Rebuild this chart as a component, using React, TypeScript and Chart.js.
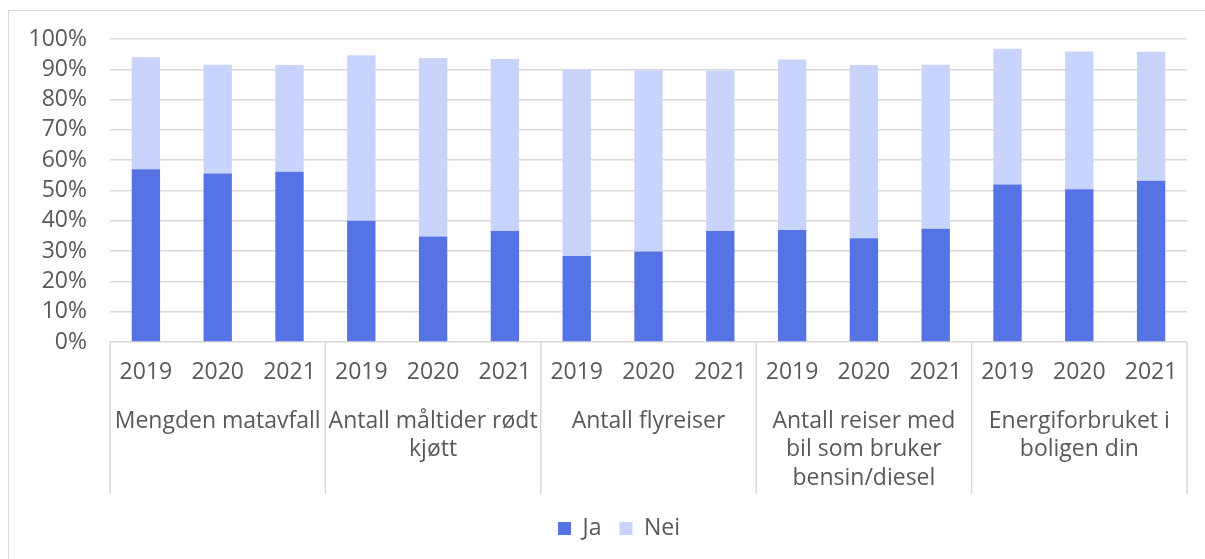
import React, { useEffect, useRef } from "react";
import { Chart, registerables } from "chart.js";

Chart.register(...registerables);

const years = ["2019", "2020", "2021"];
const groups: string[][] = [
  ["Mengden matavfall"],
  ["Antall måltider rødt", "kjøtt"],
  ["Antall flyreiser"],
  ["Antall reiser med", "bil som bruker", "bensin/diesel"],
  ["Energiforbruket i", "boligen din"],
];
const jaValues = [57.0, 55.6, 56.2, 40.0, 34.8, 36.6, 28.4, 29.9, 36.6, 37.0, 34.2, 37.4, 52.0, 50.4, 53.2];
const neiValues = [37.0, 35.9, 35.2, 54.6, 58.9, 56.8, 61.6, 59.8, 53.0, 56.2, 57.2, 54.1, 44.8, 45.5, 42.6];
const yTicks = [0, 10, 20, 30, 40, 50, 60, 70, 80, 90, 100];

const FONT = "'Open Sans', sans-serif";
const TEXT = "#595959";
const GRID = "#d9d9d9";

const groupPlugin = {
  id: "groupLabels",
  afterDraw(chart: any) {
    const x = chart.scales.x;
    const ctx = chart.ctx;
    const perGroup = years.length;
    const top = x.top;
    const dividerLen = 152;
    ctx.save();
    ctx.strokeStyle = GRID;
    ctx.lineWidth = 1.5;
    for (let g = 0; g <= groups.length; g++) {
      const px = x.getPixelForValue(g * perGroup - 0.5);
      ctx.beginPath();
      ctx.moveTo(px, top);
      ctx.lineTo(px, top + dividerLen);
      ctx.stroke();
    }
    ctx.fillStyle = TEXT;
    ctx.font = `23px ${FONT}`;
    ctx.textAlign = "center";
    ctx.textBaseline = "middle";
    groups.forEach((lines, g) => {
      const l = x.getPixelForValue(g * perGroup - 0.5);
      const r = x.getPixelForValue((g + 1) * perGroup - 0.5);
      const cx = (l + r) / 2;
      lines.forEach((line, i) => {
        ctx.fillText(line, cx, top + 79 + i * 28.5);
      });
    });
    ctx.restore();
  },
};

export default function App() {
  const ref = useRef<HTMLCanvasElement>(null);
  useEffect(() => {
    document.documentElement.style.overflow = "hidden";
    const labels: string[] = [];
    groups.forEach(() => years.forEach((y) => labels.push(y)));
    const chart = new Chart(ref.current!, {
      type: "bar",
      data: {
        labels,
        datasets: [
          { label: "Ja", data: jaValues, backgroundColor: "#5573E5", barPercentage: 0.395, categoryPercentage: 1 },
          { label: "Nei", data: neiValues, backgroundColor: "#C9D4FD", barPercentage: 0.395, categoryPercentage: 1 },
        ],
      },
      options: {
        responsive: false,
        animation: false,
        layout: { padding: { top: 39, left: 51, right: 18, bottom: 9 } },
        plugins: {
          legend: {
            position: "bottom",
            labels: {
              boxWidth: 13,
              boxHeight: 13,
              padding: 18,
              color: TEXT,
              font: { family: FONT, size: 23 },
            },
          },
          tooltip: { enabled: false },
        },
        scales: {
          x: {
            stacked: true,
            grid: { display: false, drawTicks: false },
            border: { display: false },
            ticks: { color: TEXT, font: { family: FONT, size: 23 }, padding: 17, maxRotation: 0, autoSkip: false },
            afterFit: (s: any) => { s.height = 157; },
          },
          y: {
            stacked: true,
            min: 0,
            max: 100,
            grid: { color: GRID, lineWidth: 1.5, drawTicks: false },
            border: { display: false },
            afterBuildTicks: (s: any) => { s.ticks = yTicks.map((v) => ({ value: v })); },
            ticks: {
              color: TEXT,
              font: { family: FONT, size: 23 },
              autoSkip: false,
              mirror: true,
              crossAlign: "far",
              padding: -81.5,
              callback: (v: any) => `${v}%`,
            },
            afterFit: (s: any) => { s.width = 59; },
          },
        },
      },
      plugins: [groupPlugin],
    });
    return () => chart.destroy();
  }, []);
  return (
    <div style={{ position: "fixed", left: 0, top: 0, width: 1205, height: 559, overflow: "hidden", background: "#fff" }}>
      <div style={{ position: "absolute", left: 8, top: 10, width: 1240, height: 620, border: `1px solid ${GRID}`, boxSizing: "border-box" }} />
      <canvas ref={ref} width={1205} height={559} style={{ position: "absolute", left: 0, top: 0 }} />
    </div>
  );
}
